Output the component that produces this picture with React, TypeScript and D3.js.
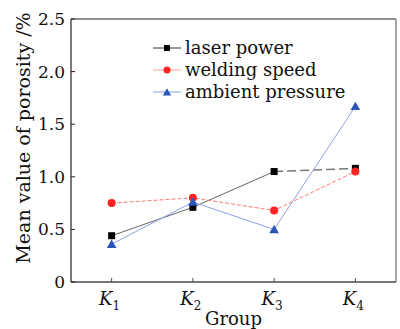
import React from "react";
import * as d3 from "d3";

const groups = ["K1", "K2", "K3", "K4"];
const laserPower = [0.44, 0.71, 1.05, 1.08];
const weldingSpeed = [0.75, 0.8, 0.68, 1.05];
const ambientPressure = [0.36, 0.76, 0.5, 1.67];
const yTicks = [0, 0.5, 1.0, 1.5, 2.0, 2.5];
const legendLabels = ["laser power", "welding speed", "ambient pressure"];

const W = 400, H = 329;
const M = { left: 71, right: 396, top: 19, bottom: 282 };

export default function App() {
  const x = d3.scaleLinear().domain([0.5, 4.5]).range([M.left, M.right]);
  const y = d3.scaleLinear().domain([0, 2.5]).range([M.bottom, M.top]);
  const idx = groups.map((_, i) => i + 1);
  const line = d3.line<[number, number]>().x(d => x(d[0])).y(d => y(d[1]));
  const pts = (arr: number[]) => arr.map((v, i) => [idx[i], v] as [number, number]);

  const lp = pts(laserPower);
  const ws = pts(weldingSpeed);
  const ap = pts(ambientPressure);

  const sq = 7;
  const tri = d3.symbol().type(d3.symbolTriangle).size(40)();

  const legendY = [48, 70, 92];
  const lx0 = 153, lx1 = 181;

  return (
    <svg width={W} height={H} style={{ position: "absolute", left: 0, top: 0, background: "#fff", fontFamily: "'DejaVu Serif', 'Liberation Serif', serif" }}>
      {/* frame */}
      <line x1={M.left} x2={M.right} y1={M.top} y2={M.top} stroke="#222" strokeWidth={1.2} />
      <line x1={M.right} x2={M.right} y1={M.top} y2={M.bottom} stroke="#888" strokeWidth={1.5} />
      <line x1={M.left} x2={M.right} y1={M.bottom} y2={M.bottom} stroke="#777" strokeWidth={1.8} />
      <line x1={M.left} x2={M.left} y1={M.top} y2={M.bottom} stroke="#222" strokeWidth={1.2} />

      {/* y ticks */}
      {yTicks.map(t => (
        <g key={t}>
          <line x1={M.left} x2={M.left + 4} y1={y(t)} y2={y(t)} stroke="#222" strokeWidth={1} />
          <text x={M.left - 6} y={y(t)} dy="0.35em" textAnchor="end" fontSize={17} fill="#111">
            {t === 0 ? "0" : t.toFixed(1)}
          </text>
        </g>
      ))}

      {/* x ticks */}
      {groups.map((g, i) => (
        <g key={g}>
          <line x1={x(idx[i])} x2={x(idx[i])} y1={M.bottom} y2={M.bottom - 4} stroke="#555" strokeWidth={1} />
          <text x={x(idx[i]) - 2} y={305} textAnchor="middle" fontSize={18} fill="#111">
            <tspan fontStyle="italic">{g[0]}</tspan>
            <tspan fontSize={12} dy={5}>{g.slice(1)}</tspan>
          </text>
        </g>
      ))}

      {/* axis titles */}
      <text x={(M.left + M.right) / 2} y={325} textAnchor="middle" fontSize={18} fill="#111">Group</text>
      <text transform={`translate(30,${138}) rotate(-90)`} textAnchor="middle" fontSize={19} fill="#111">
        Mean value of porosity /%
      </text>

      {/* series lines */}
      <path d={line(lp.slice(0, 3)) || ""} fill="none" stroke="#666" strokeWidth={1} />
      <path d={line(lp.slice(2)) || ""} fill="none" stroke="#777" strokeWidth={1.5} strokeDasharray="9,4" />
      <path d={line(ws) || ""} fill="none" stroke="#f77" strokeWidth={1} strokeDasharray="4,2" />
      <path d={line(ap) || ""} fill="none" stroke="#8fa0e8" strokeWidth={1} />

      {/* markers */}
      {lp.map((p, i) => (
        <rect key={"s" + i} x={x(p[0]) - sq / 2} y={y(p[1]) - sq / 2} width={sq} height={sq} fill="#000" />
      ))}
      {ws.map((p, i) => (
        <circle key={"c" + i} cx={x(p[0])} cy={y(p[1])} r={4} fill="#f22" />
      ))}
      {ap.map((p, i) => (
        <path key={"t" + i} d={tri || ""} transform={`translate(${x(p[0])},${y(p[1]) + 1})`} fill="#2a55b8" />
      ))}

      {/* legend */}
      <line x1={lx0} x2={lx1} y1={legendY[0]} y2={legendY[0]} stroke="#333" strokeWidth={1} />
      <rect x={(lx0 + lx1) / 2 - 3} y={legendY[0] - 3} width={6} height={6} fill="#000" />
      <line x1={lx0} x2={lx1} y1={legendY[1]} y2={legendY[1]} stroke="#f99" strokeWidth={1} />
      <circle cx={(lx0 + lx1) / 2} cy={legendY[1]} r={3.5} fill="#f22" />
      <line x1={lx0} x2={lx1} y1={legendY[2]} y2={legendY[2]} stroke="#99b0ea" strokeWidth={1.2} />
      <path d={d3.symbol().type(d3.symbolTriangle).size(30)() || ""} transform={`translate(${(lx0 + lx1) / 2},${legendY[2] + 1})`} fill="#2a55b8" />
      {legendLabels.map((l, i) => (
        <text key={l} x={185} y={legendY[i]} dy="0.35em" fontSize={18} fill="#111">{l}</text>
      ))}
    </svg>
  );
}
